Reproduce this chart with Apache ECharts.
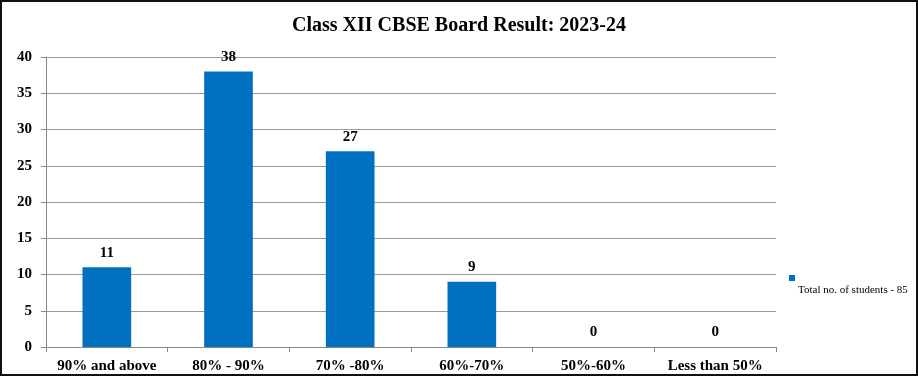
<!DOCTYPE html>
<html>
<head>
<meta charset="utf-8">
<script src="https://cdn.jsdelivr.net/npm/echarts@6/dist/echarts.min.js"></script>
<style>
  html, body { margin: 0; padding: 0; background: #fff; }
  #chart {
    width: 918px;
    height: 376px;
    box-sizing: border-box;
    border: 2px solid #111;
  }
</style>
</head>
<body>
<div id="chart"></div>
<script>
const categories = ['90% and above', '80% - 90%', '70% -80%', '60%-70%', '50%-60%', 'Less than 50%']
const students = [11, 38, 27, 9, 0, 0]
const seriesName = 'Total no. of students - 85'

const chart = echarts.init(document.getElementById('chart'))

const serif = '"Liberation Serif", "Times New Roman", serif'

const option = {
  backgroundColor: '#fff',
  animation: false,
  title: {
    text: 'Class XII CBSE Board Result: 2023-24',
    left: 'center',
    top: 9,
    textStyle: { fontFamily: serif, fontSize: 20, fontWeight: 'bold', color: '#000' }
  },
  legend: {
    data: [seriesName],
    orient: 'vertical',
    left: 782,
    top: 268,
    icon: 'rect',
    itemWidth: 6,
    itemHeight: 6,
    itemGap: 0,
    formatter: '{a|{name}}',
    textStyle: {
      rich: {
        a: {
          fontFamily: serif,
          fontSize: 11,
          color: '#000',
          padding: [24, 0, 0, -2]
        }
      }
    }
  },
  grid: {
    left: 44,
    right: 140,
    top: 55,
    bottom: 26,
    containLabel: false
  },
  xAxis: {
    type: 'category',
    data: categories,
    axisLine: { lineStyle: { color: '#888' } },
    axisTick: { show: true, length: 5, alignWithLabel: false, lineStyle: { color: '#888' } },
    axisLabel: {
      interval: 0,
      margin: 12,
      fontFamily: serif,
      fontSize: 15,
      fontWeight: 'bold',
      color: '#000'
    }
  },
  yAxis: {
    type: 'value',
    min: 0,
    max: 40,
    interval: 5,
    axisLine: { show: true, lineStyle: { color: '#888' } },
    axisTick: { show: true, length: 5, lineStyle: { color: '#888' } },
    splitLine: { lineStyle: { color: '#999' } },
    axisLabel: {
      margin: 14,
      fontFamily: serif,
      fontSize: 15,
      fontWeight: 'bold',
      color: '#000'
    }
  },
  series: [
    {
      name: seriesName,
      type: 'bar',
      data: students,
      barWidth: '40%',
      itemStyle: { color: '#0070C0' },
      label: {
        show: true,
        position: 'top',
        distance: 7,
        fontFamily: serif,
        fontSize: 15,
        fontWeight: 'bold',
        color: '#000'
      }
    }
  ]
}

chart.setOption(option)
</script>
</body>
</html>
